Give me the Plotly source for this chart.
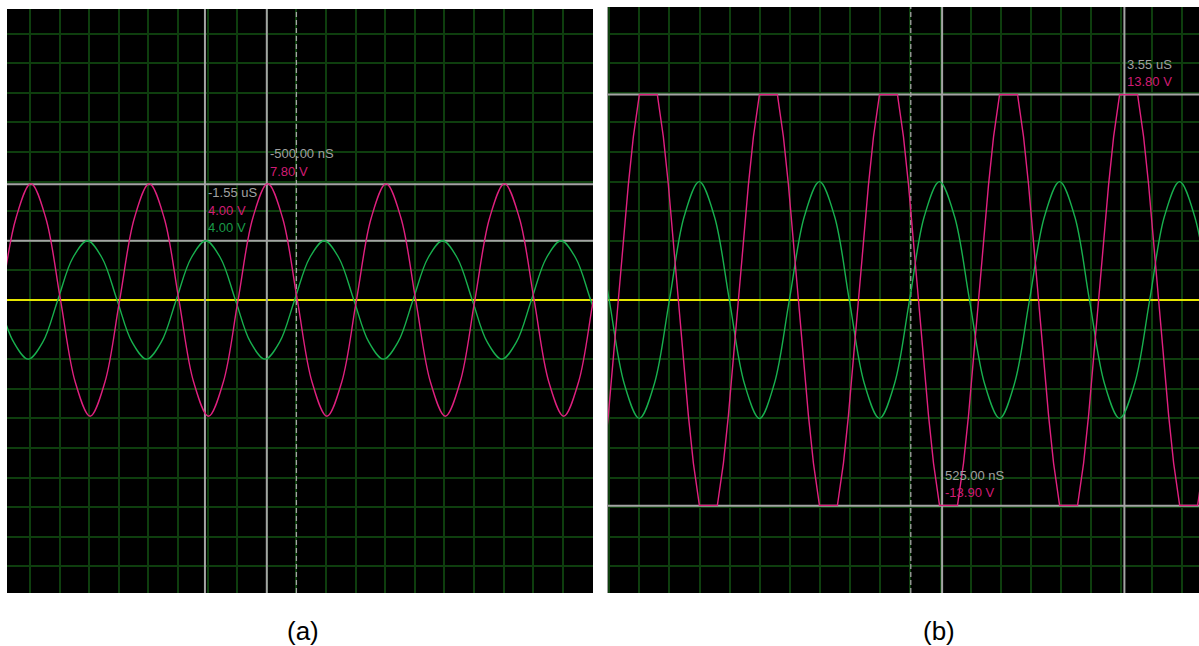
import plotly.graph_objects as go

# ---------------- data (in screen divisions) ----------------
# Panel (a)
pink_a_t = [-0.97, -0.47, 0.03, 0.53, 1.03, 1.53, 2.03, 2.53, 3.03, 3.53, 4.03, 4.53, 5.03, 5.53,
            6.03, 6.53, 7.03, 7.53, 8.03, 8.53, 9.03, 9.53, 10.03, 10.53, 11.03, 11.53, 12.03, 12.53,
            13.03, 13.53, 14.03, 14.53, 15.03, 15.53, 16.03, 16.53, 17.03, 17.53, 18.03, 18.53, 19.03, 19.53]
pink_a_v = [0, 2.78, 3.93, 2.78, 0, -2.78, -3.93, -2.78,
            0, 2.78, 3.93, 2.78, 0, -2.78, -3.93, -2.78,
            0, 2.78, 3.93, 2.78, 0, -2.78, -3.93, -2.78,
            0, 2.78, 3.93, 2.78, 0, -2.78, -3.93, -2.78,
            0, 2.78, 3.93, 2.78, 0, -2.78, -3.93, -2.78,
            0, 2.78]
green_a_t = [-1.06, -0.56, -0.06, 0.44, 0.94, 1.44, 1.94, 2.44, 2.94, 3.44, 3.94, 4.44, 4.94, 5.44,
             5.94, 6.44, 6.94, 7.44, 7.94, 8.44, 8.94, 9.44, 9.94, 10.44, 10.94, 11.44, 11.94, 12.44,
             12.94, 13.44, 13.94, 14.44, 14.94, 15.44, 15.94, 16.44, 16.94, 17.44, 17.94, 18.44, 18.94, 19.44]
green_a_v = [0, -1.41, -2.0, -1.41, 0, 1.41, 2.0, 1.41,
             0, -1.41, -2.0, -1.41, 0, 1.41, 2.0, 1.41,
             0, -1.41, -2.0, -1.41, 0, 1.41, 2.0, 1.41,
             0, -1.41, -2.0, -1.41, 0, 1.41, 2.0, 1.41,
             0, -1.41, -2.0, -1.41, 0, 1.41, 2.0, 1.41,
             0, -1.41]

# Panel (b)
pink_b_t = [-1.194, -1.028, -0.696, -0.364, -0.198,
            0.001, 0.599, 0.798, 0.964, 1.296, 1.628, 1.794, 1.994, 2.591, 2.791, 2.957, 3.289, 3.621, 3.787,
            3.986, 4.584, 4.783, 4.949, 5.281, 5.613, 5.779, 5.979, 6.576, 6.776, 6.942, 7.274, 7.606, 7.772,
            7.971, 8.569, 8.768, 8.934, 9.266, 9.598, 9.764, 9.964, 10.561, 10.761, 10.927, 11.259, 11.591, 11.757,
            11.956, 12.554, 12.753, 12.919, 13.251, 13.583, 13.749, 13.949, 14.546, 14.746, 14.912, 15.244, 15.576, 15.742,
            15.941, 16.539, 16.738, 16.904, 17.236, 17.568, 17.734, 17.934, 18.531, 18.731]
pink_b_v = [-5.51, -3.90, 0, 3.90, 5.51,
            6.94, 6.94, 5.51, 3.90, 0, -3.90, -5.51, -6.94, -6.94, -5.51, -3.90, 0, 3.90, 5.51,
            6.94, 6.94, 5.51, 3.90, 0, -3.90, -5.51, -6.94, -6.94, -5.51, -3.90, 0, 3.90, 5.51,
            6.94, 6.94, 5.51, 3.90, 0, -3.90, -5.51, -6.94, -6.94, -5.51, -3.90, 0, 3.90, 5.51,
            6.94, 6.94, 5.51, 3.90, 0, -3.90, -5.51, -6.94, -6.94, -5.51, -3.90, 0, 3.90, 5.51,
            6.94, 6.94, 5.51, 3.90, 0, -3.90, -5.51, -6.94, -6.94, -5.51]
green_b_t = [-1.49, -1.0, -0.5, 0, 0.5, 1.0, 1.49, 1.99, 2.49, 2.99, 3.49, 3.99, 4.48, 4.98,
             5.48, 5.98, 6.48, 6.97, 7.47, 7.97, 8.47, 8.97, 9.46, 9.96, 10.46, 10.96, 11.46, 11.96,
             12.45, 12.95, 13.45, 13.95, 14.45, 14.94, 15.44, 15.94, 16.44, 16.94, 17.43, 17.93, 18.43, 18.93]
green_b_v = [2.83, 0, -2.83, -4.0, -2.83, 0, 2.83, 4.0,
             2.83, 0, -2.83, -4.0, -2.83, 0, 2.83, 4.0,
             2.83, 0, -2.83, -4.0, -2.83, 0, 2.83, 4.0,
             2.83, 0, -2.83, -4.0, -2.83, 0, 2.83, 4.0,
             2.83, 0, -2.83, -4.0, -2.83, 0, 2.83, 4.0,
             2.83, 0]

# axis ranges (divisions)
xr_a = [-0.777, 19.02]
yr_a = [-9.9, 9.83]
xr_b = [-1.039, 18.576]
yr_b = [-9.9, 9.9]

# cursors
cursor_a_x = [5.91, 8.0]
cursor_a_y = [2.0, 3.91]
trigger_a_x = 9.0
cursor_b_x = [10.05, 16.1]
cursor_b_y = [-6.95, 6.94]
trigger_b_x = 9.01

# cursor readouts: (time, ch1, ch2)
labels_a = [["-1.55 uS", "4.00 V", "4.00 V"], ["-500.00 nS", "7.80 V", None]]
labels_b = [["525.00 nS", "-13.90 V", None], ["3.55 uS", "13.80 V", None]]
panel_tags = ["(a)", "(b)"]

# ---------------- style ----------------
W, H = 1199, 646
PINK = "#e0207f"
GREEN = "#18b04e"
YELLOW = "#e6e600"
GRID = "rgb(14,62,14)"
CURSOR = "#a4a4a4"
TXT_GRAY = "#a0a0a0"
TXT_PINK = "#d01c74"
TXT_GREEN = "#1a9a48"
FONT = "Liberation Sans, Arial, sans-serif"

fig = go.Figure()

def line_trace(x, y, xa, ya, color, width, dash=None, shape="linear"):
    fig.add_trace(go.Scatter(x=x, y=y, mode="lines", xaxis=xa, yaxis=ya,
                             line=dict(color=color, width=width, dash=dash, shape=shape),
                             hoverinfo="skip", showlegend=False, cliponaxis=True))

def cursors(xa, ya, xr, yr, cx, cy, tx):
    for v in cy:
        line_trace(xr, [v, v], xa, ya, CURSOR, 2)
    for v in cx:
        line_trace([v, v], yr, xa, ya, CURSOR, 2)
    line_trace([tx, tx], yr, xa, ya, CURSOR, 1.3, dash="5px,3px")

cursors("x", "y", xr_a, yr_a, cursor_a_x, cursor_a_y, trigger_a_x)
cursors("x2", "y2", xr_b, yr_b, cursor_b_x, cursor_b_y, trigger_b_x)

line_trace(green_a_t, green_a_v, "x", "y", GREEN, 1.4, shape="spline")
line_trace(pink_a_t, pink_a_v, "x", "y", PINK, 1.4, shape="spline")
line_trace(green_b_t, green_b_v, "x2", "y2", GREEN, 1.4, shape="spline")
line_trace(pink_b_t, pink_b_v, "x2", "y2", PINK, 1.4)

def axis_common():
    return dict(showgrid=True, gridcolor=GRID, gridwidth=1.5, dtick=1, tick0=0,
                showticklabels=False, ticks="", fixedrange=True)

fig.update_layout(
    width=W, height=H,
    margin=dict(l=0, r=0, t=0, b=0, pad=0),
    paper_bgcolor="white", plot_bgcolor="black",
    showlegend=False,
    xaxis=dict(domain=[7 / W, 593 / W], range=xr_a, zeroline=False, anchor="y",
               **axis_common()),
    yaxis=dict(domain=[(H - 593) / H, (H - 9) / H], range=yr_a, zeroline=True,
               zerolinecolor=YELLOW, zerolinewidth=1.6, anchor="x", **axis_common()),
    xaxis2=dict(domain=[608 / W, 1.0], range=xr_b, zeroline=False, anchor="y2",
                **axis_common()),
    yaxis2=dict(domain=[(H - 593) / H, (H - 7) / H], range=yr_b, zeroline=True,
                zerolinecolor=YELLOW, zerolinewidth=1.6, anchor="x2",
                showline=True, linecolor="#9a9a9a", linewidth=1, **axis_common()),
)

anns = []
def readouts(xr, yr, cx, cy, labels):
    for x, y, lab in zip(cx, cy, labels):
        t, v1, v2 = lab
        if v2 is not None:
            rows = [(t, TXT_GRAY, 48), (v1, TXT_PINK, 30.5), (v2, TXT_GREEN, 13)]
        else:
            rows = [(t, TXT_GRAY, 30.5), (v1, TXT_PINK, 13)]
        for txt, col, ys in rows:
            anns.append(dict(xref=xr, yref=yr, x=x, y=y, text=txt, showarrow=False,
                             xanchor="left", yanchor="middle", xshift=3, yshift=ys,
                             borderpad=0, borderwidth=0,
                             font=dict(family=FONT, size=13, color=col)))

readouts("x", "y", cursor_a_x, cursor_a_y, labels_a)
readouts("x2", "y2", cursor_b_x, cursor_b_y, labels_b)

for tag, xc in zip(panel_tags, [303 / W, 939 / W]):
    anns.append(dict(xref="paper", yref="paper", x=xc, y=(H - 631) / H, text=tag,
                     showarrow=False, xanchor="center", yanchor="middle",
                     font=dict(family=FONT, size=26, color="black")))

fig.update_layout(annotations=anns)

fig.write_html("out.html")
